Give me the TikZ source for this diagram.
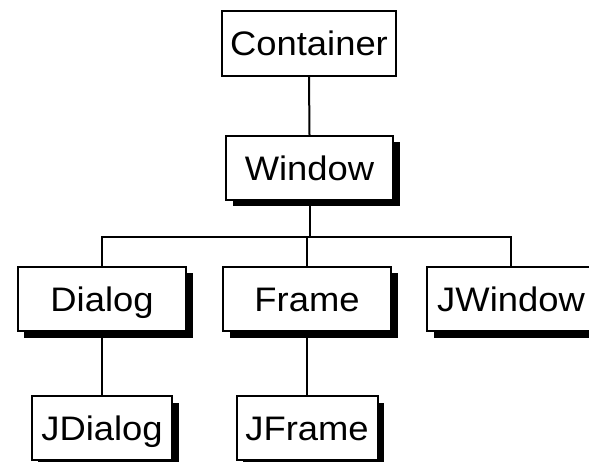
\documentclass[tikz,border=0pt]{standalone}
\usepackage{fontspec}
\setmainfont{Liberation Sans}[FakeStretch=1.07]
\usepackage{tikz}
\usetikzlibrary{shadows}
\usepackage{xcolor}

\begin{document}
\begin{tikzpicture}[x=1bp,y=-1bp,line width=2bp,
  cls/.style={draw,fill=white,inner sep=0pt,minimum height=64bp,
    text height=24.5bp,text depth=0pt,
    font=\fontsize{34bp}{40bp}\selectfont},
  shd/.style={drop shadow={shadow xshift=6.5bp,shadow yshift=-6.5bp,opacity=1,fill=black}}]
\useasboundingbox (0,0) rectangle (589,462);
\clip (0,0) rectangle (589,462);
\node[cls,minimum width=174bp,minimum height=65bp] (cont) at (309,43.5) {Container};
\node[cls,shd,minimum width=167bp] (win) at (309.5,168) {Window};
\node[cls,shd,minimum width=168bp] (dlg) at (102,299) {Dialog};
\node[cls,shd,minimum width=168bp] (frm) at (307,299) {Frame};
\node[cls,shd,minimum width=168bp] (jwin) at (511,299) {JWindow};
\node[cls,shd,minimum width=140bp] (jdlg) at (102,428) {JDialog};
\node[cls,shd,minimum width=141bp] (jfrm) at (307,428) {JFrame};
\coordinate (bus) at (309.5,237);
\draw (cont.south) -- (win.north);
\draw (win.south) -- (bus);
\draw (dlg.north) |- (bus) -| (jwin.north);
\draw (frm.north) -- (frm.north |- bus);
\draw (dlg.south) -- (jdlg.north);
\draw (frm.south) -- (jfrm.north);
\end{tikzpicture}
\end{document}
